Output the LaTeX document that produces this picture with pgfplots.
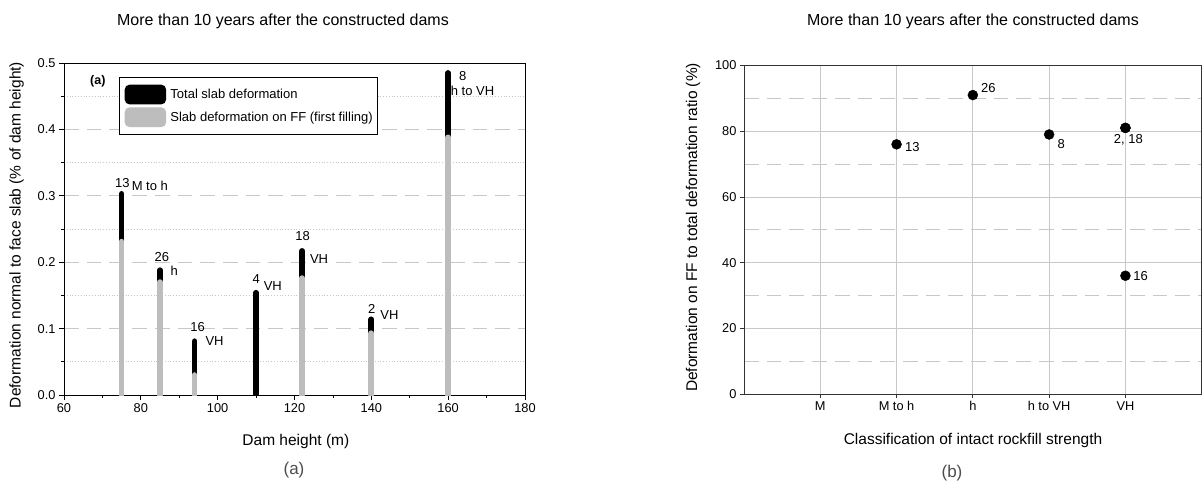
\documentclass[border=0pt]{standalone}
\usepackage{pgfplots}
\pgfplotsset{compat=1.18}
\usepackage{fontspec}
\setmainfont{Liberation Sans}
\definecolor{gridc}{HTML}{C8C8C8}
\definecolor{ffgray}{HTML}{BDBDBD}
\newcommand{\fs}[1]{\fontsize{#1bp}{1.2\dimexpr#1bp\relax}\selectfont}
\begin{document}
\begin{tikzpicture}
\path[use as bounding box] (0bp,0bp) rectangle (1203bp,-485bp);
% titles and captions
\node[anchor=base, font=\fs{16}] at (283bp,-25bp) {More than 10 years after the constructed dams};
\node[anchor=base, font=\fs{16}] at (973bp,-25bp) {More than 10 years after the constructed dams};
\node[font=\fs{17}, text=black!70] at (294bp,-470bp) {(a)};
\node[font=\fs{17}, text=black!70] at (952bp,-473bp) {(b)};

% ---------------- left panel ----------------
\begin{axis}[
  at={(64bp,-395bp)}, anchor=south west,
  scale only axis, width=461bp, height=332bp,
  xmin=60, xmax=180, ymin=0, ymax=0.5,
  xtick={60,80,100,120,140,160,180}, minor x tick num=1,
  ytick={0,0.1,0.2,0.3,0.4,0.5}, minor y tick num=1,
  /pgf/number format/assume math mode=true,
  yticklabel style={/pgf/number format/.cd, fixed, fixed zerofill, precision=1},
  xticklabel style={/pgf/number format/.cd, fixed},
  tick label style={font=\fs{12.8}},
  label style={font=\fs{15.5}},
  xlabel={Dam height (m)},
  ylabel={Deformation normal to face slab (\% of dam height)},
  xlabel style={at={(axis description cs:0.503,-0.141)}, anchor=center},
  ylabel style={at={(axis description cs:-0.1026,0.482)}, anchor=center},
  ymajorgrids, yminorgrids,
  major grid style={gridc, dash pattern=on 14.7bp off 8bp, line width=0.8bp},
  minor grid style={gridc, dash pattern=on 1bp off 1.8bp, line width=0.8bp},
  axis line style={black, line width=0.9bp},
  tick style={black, line width=0.8bp},
  major tick length=5bp, minor tick length=3bp,
  tick align=outside, xtick pos=bottom, ytick pos=left,
  legend style={at={(axis description cs:0.12,0.957)}, anchor=north west,
    draw=black, line width=0.8bp, font=\fs{13},
    inner xsep=5bp, inner ysep=7bp, row sep=3bp,
    nodes={inner xsep=0bp, inner ysep=1bp}},
  legend cell align=left,
]
\addplot[ycomb, black, line width=5.7bp, line cap=round,
  legend image code/.code={\fill[black, rounded corners=2.5bp] (0bp,-7bp) rectangle (35.7bp,7bp); \path (40bp,0bp);}]
  coordinates {(75,0.303) (85,0.188) (94,0.081) (110,0.154) (122,0.217) (140,0.114) (160,0.485)};
\addlegendentry{Total slab deformation}
\addplot[ycomb, ffgray, line width=5.7bp, line cap=round,
  legend image code/.code={\fill[ffgray, rounded corners=2.5bp] (0bp,-7bp) rectangle (35.7bp,7bp); \path (40bp,0bp);}]
  coordinates {(75,0.231) (85,0.170) (94,0.030) (122,0.176) (140,0.093) (160,0.388)};
\addlegendentry{Slab deformation on FF (first filling)}
% annotations
\node[font=\bfseries\fs{12.5}] at (axis cs:68.8,0.473) {(a)};
\begin{scope}[every node/.style={font=\fs{13}, inner sep=0pt}]
\node at (axis cs:75.2,0.319) {13};
\node[anchor=west] at (axis cs:77.6,0.315) {M to h};
\node at (axis cs:85.5,0.208) {26};
\node at (axis cs:88.7,0.187) {h};
\node at (axis cs:94.8,0.102) {16};
\node at (axis cs:99.2,0.081) {VH};
\node at (axis cs:110.05,0.174) {4};
\node at (axis cs:114.35,0.164) {VH};
\node at (axis cs:122.1,0.240) {18};
\node at (axis cs:126.4,0.205) {VH};
\node at (axis cs:140.1,0.1295) {2};
\node at (axis cs:144.7,0.1205) {VH};
\node at (axis cs:163.8,0.480) {8};
\node[anchor=west] at (axis cs:160.65,0.458) {h to VH};
\end{scope}
\end{axis}

% ---------------- right panel ----------------
\begin{axis}[
  at={(744bp,-394bp)}, anchor=south west,
  scale only axis, width=457.7bp, height=328.5bp,
  xmin=0, xmax=6, ymin=0, ymax=100,
  xtick={1,2,3,4,5}, xticklabels={M,M to h,h,h to VH,VH},
  ytick={0,20,40,60,80,100}, minor ytick={10,30,50,70,90},
  /pgf/number format/assume math mode=true,
  tick label style={font=\fs{12.8}},
  label style={font=\fs{15.5}},
  xlabel={Classification of intact rockfill strength},
  ylabel={Deformation on FF to total deformation ratio (\%)},
  xlabel style={at={(axis description cs:0.5003,-0.140)}, anchor=center},
  ylabel style={at={(axis description cs:-0.111,0.507)}, anchor=center},
  xmajorgrids, ymajorgrids, yminorgrids,
  major grid style={gridc, solid, line width=0.8bp},
  minor grid style={gridc, dash pattern=on 14.7bp off 8bp, line width=0.8bp},
  axis line style={black!80, line width=0.9bp},
  tick style={black!80, line width=0.8bp},
  major tick length=4bp, minor tick length=0bp,
  tick align=outside, xtick pos=bottom, ytick pos=left,
]
\addplot[only marks, mark=*, mark size=5bp, black]
  coordinates {(2,76) (3,91) (4,79) (5,81) (5,81) (5,36)};
\begin{scope}[every node/.style={font=\fs{13}, inner sep=0pt}]
\node[anchor=west] at (axis cs:2.11,75.3) {13};
\node[anchor=west] at (axis cs:3.107,93.1) {26};
\node at (axis cs:4.16,76.2) {8};
\node at (axis cs:5.038,77.5) {2, 18};
\node[anchor=west] at (axis cs:5.103,35.8) {16};
\end{scope}
\end{axis}
\end{tikzpicture}
\end{document}
